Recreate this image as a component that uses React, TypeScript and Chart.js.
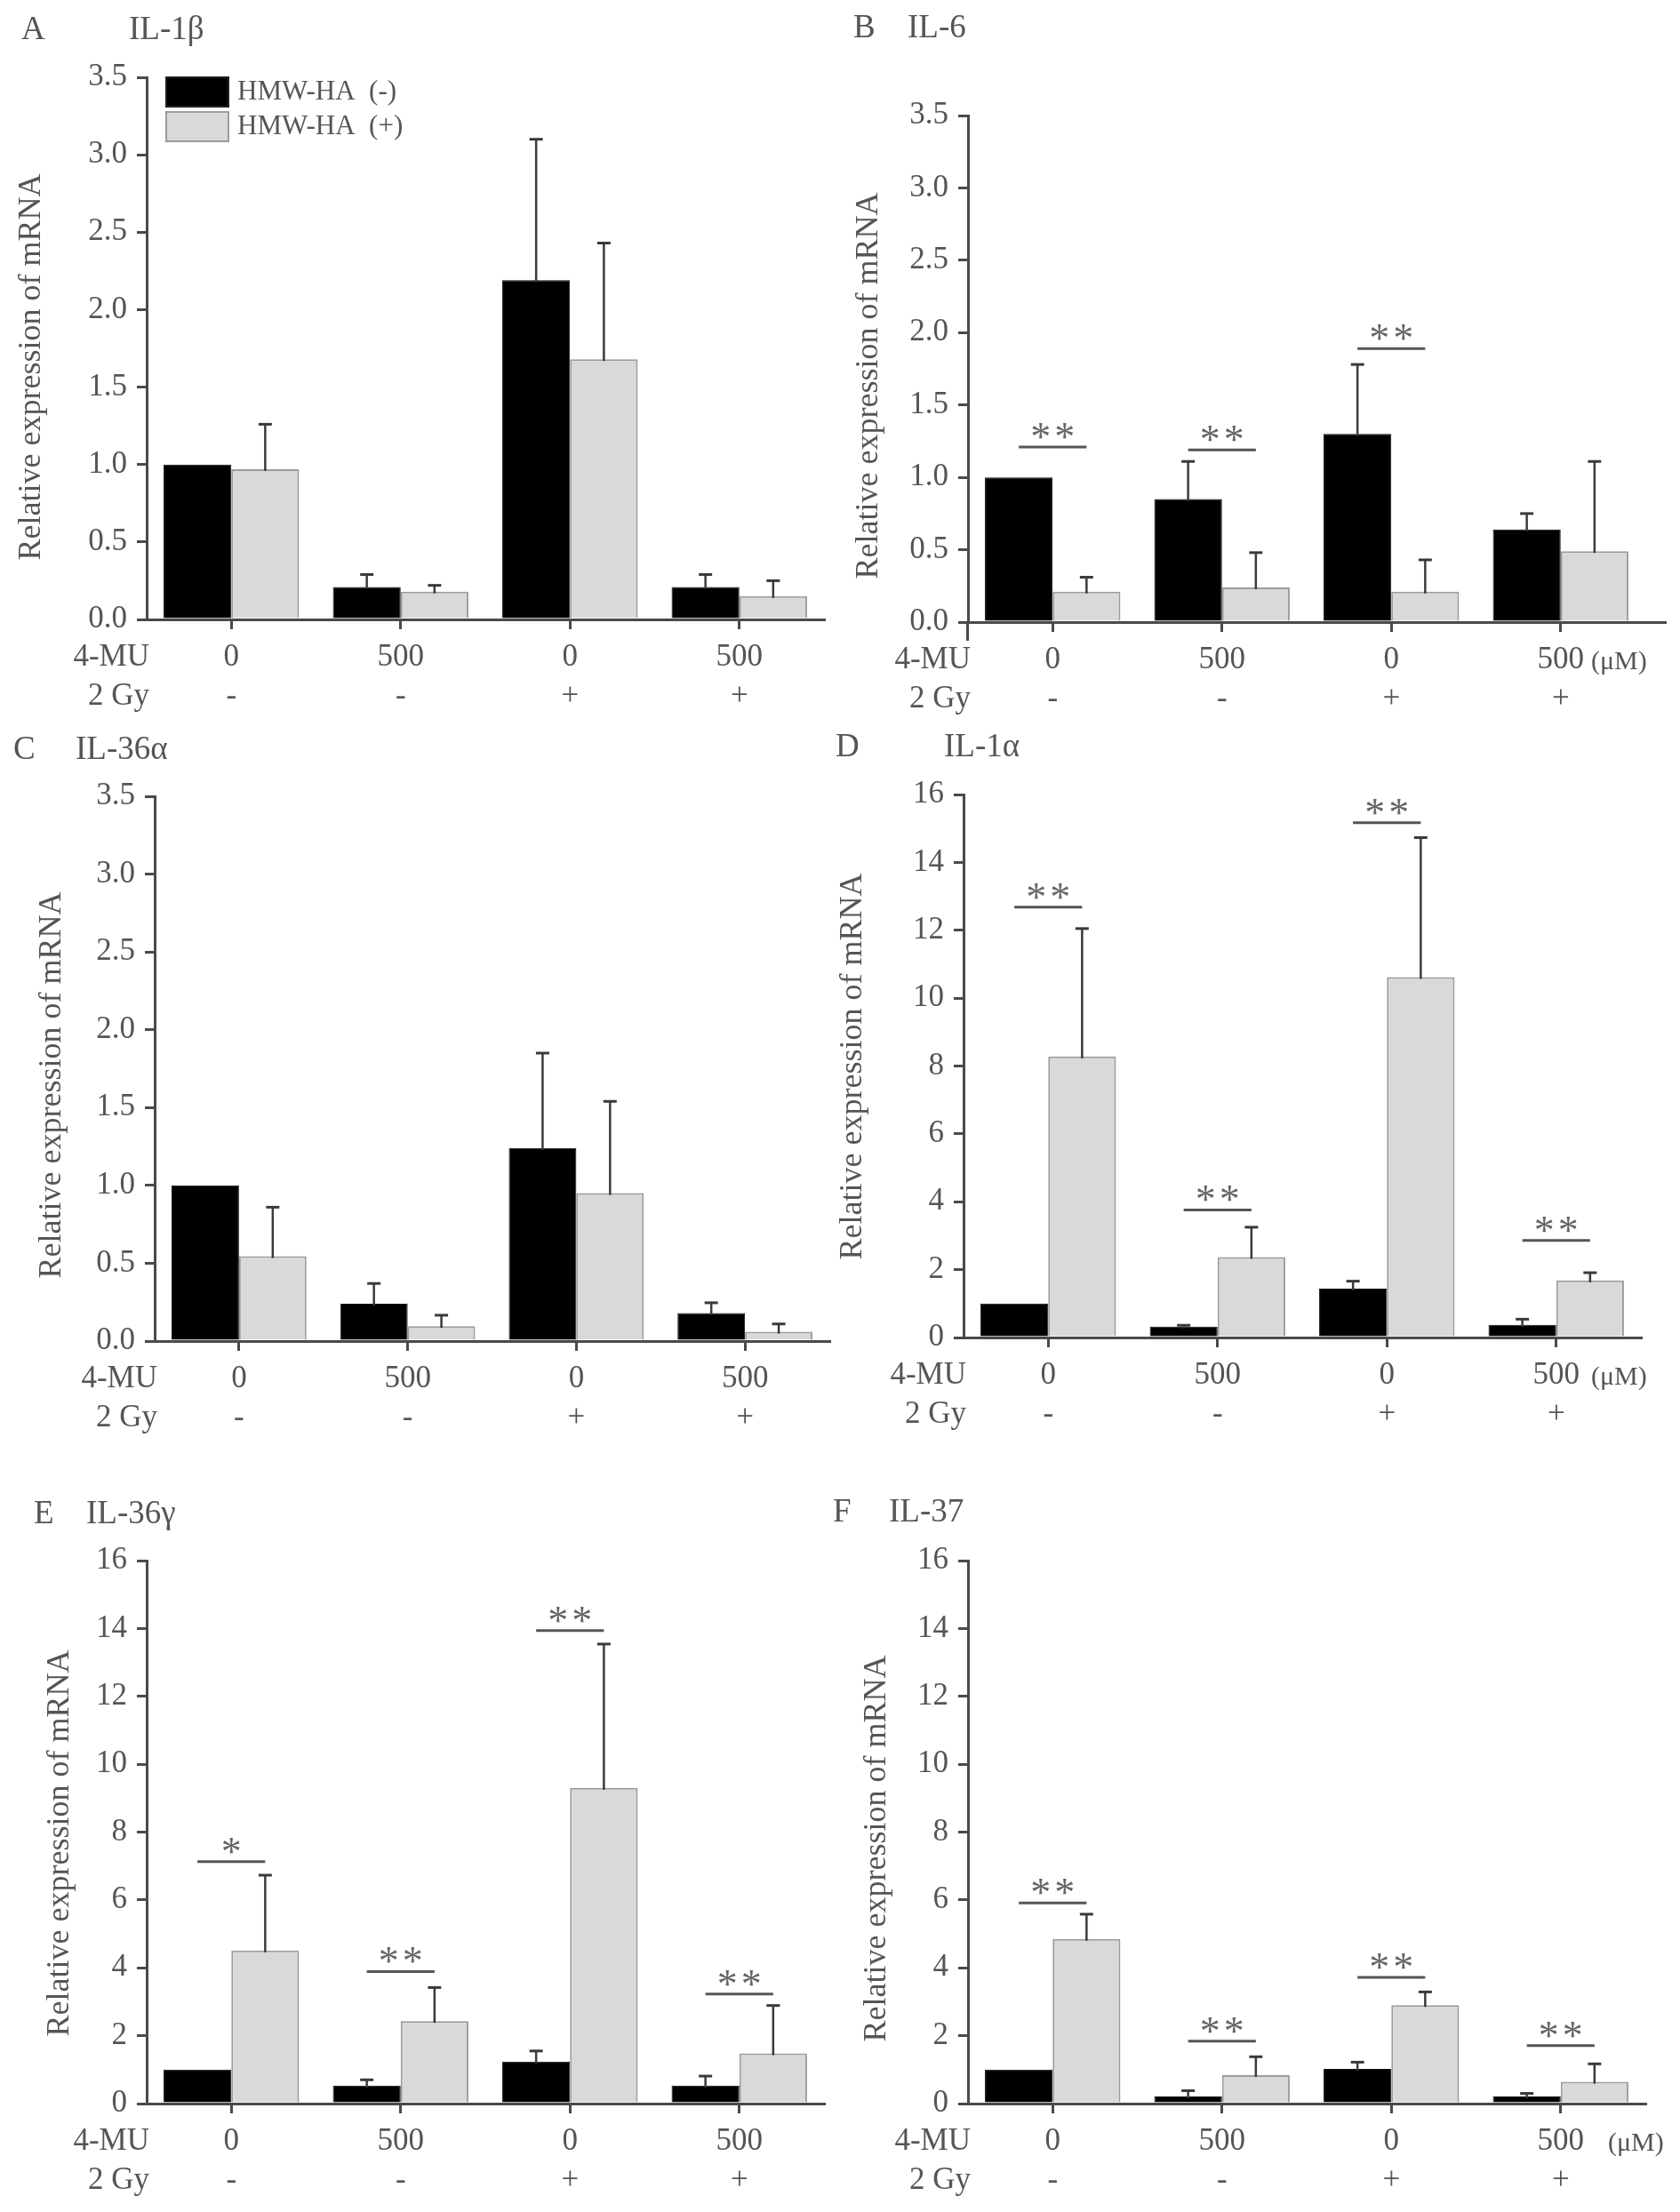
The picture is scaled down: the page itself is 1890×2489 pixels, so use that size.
import React, { useEffect, useRef } from "react";
import { Chart, registerables } from "chart.js";

Chart.register(...registerables);

// ---------- shared labels ----------
const mu4Labels = ["0", "500", "0", "500"];
const gyLabels = ["-", "-", "+", "+"];
const seriesNames = ["HMW-HA  (-)", "HMW-HA  (+)"];

// ---------- A: IL-1β ----------
const il1bMinus = [1.0, 0.21, 2.19, 0.21];
const il1bMinusErr = [0, 0.08, 0.91, 0.08];
const il1bPlus = [0.97, 0.18, 1.68, 0.15];
const il1bPlusErr = [0.29, 0.04, 0.75, 0.1];
const il1bBrackets: (number | null)[] = [null, null, null, null];
const il1bStars = ["", "", "", ""];

// ---------- B: IL-6 ----------
const il6Minus = [1.0, 0.85, 1.3, 0.64];
const il6MinusErr = [0, 0.26, 0.48, 0.11];
const il6Plus = [0.21, 0.24, 0.21, 0.49];
const il6PlusErr = [0.1, 0.24, 0.22, 0.62];
const il6Brackets: (number | null)[] = [1.21, 1.19, 1.89, null];
const il6Stars = ["**", "**", "**", ""];

// ---------- C: IL-36α ----------
const il36aMinus = [1.0, 0.24, 1.24, 0.18];
const il36aMinusErr = [0, 0.13, 0.61, 0.066];
const il36aPlus = [0.545, 0.096, 0.95, 0.06];
const il36aPlusErr = [0.315, 0.07, 0.59, 0.05];
const il36aBrackets: (number | null)[] = [null, null, null, null];
const il36aStars = ["", "", "", ""];

// ---------- D: IL-1α ----------
const il1aMinus = [1.0, 0.32, 1.44, 0.37];
const il1aMinusErr = [0, 0.04, 0.22, 0.17];
const il1aPlus = [8.28, 2.37, 10.62, 1.68];
const il1aPlusErr = [3.77, 0.88, 4.11, 0.23];
const il1aBrackets: (number | null)[] = [12.68, 3.76, 15.17, 2.86];
const il1aStars = ["**", "**", "**", "**"];

// ---------- E: IL-36γ ----------
const il36gMinus = [1.0, 0.53, 1.24, 0.53];
const il36gMinusErr = [0, 0.17, 0.31, 0.28];
const il36gPlus = [4.51, 2.43, 9.3, 1.48];
const il36gPlusErr = [2.22, 0.99, 4.24, 1.41];
const il36gBrackets: (number | null)[] = [7.13, 3.89, 13.94, 3.23];
const il36gStars = ["*", "**", "**", "**"];

// ---------- F: IL-37 ----------
const il37Minus = [1.0, 0.21, 1.02, 0.21];
const il37MinusErr = [0, 0.17, 0.2, 0.09];
const il37Plus = [4.85, 0.84, 2.9, 0.64];
const il37PlusErr = [0.73, 0.54, 0.39, 0.53];
const il37Brackets: (number | null)[] = [5.91, 1.84, 3.72, 1.71];
const il37Stars = ["**", "**", "**", "**"];

// ---------- styling ----------
const FONT = "'Liberation Serif', 'Times New Roman', serif";
const TEXT = "#555555";
const AXIS = "#4a4a4a";
const BLACK = "#000000";
const GREY = "#d9d9d9";
const GREY_EDGE = "#9c9c9c";
const ERR = "#3a3a3a";

type PanelCfg = {
  letter: string;
  name: string;
  box: { x: number; y: number; w: number; h: number };
  axisX: number;
  plotTop: number;
  zeroY: number;
  plotRight: number;
  yMax: number;
  yStep: number;
  decimals: number;
  minus: number[];
  minusErr: number[];
  plus: number[];
  plusErr: number[];
  brackets: (number | null)[];
  stars: string[];
  yTitle: { x: number; y: number };
  letterPos: { x: number; y: number };
  nameX: number;
  unitX: number | null;
  legend: boolean;
  extend: { x: number; y: number } | null;
};

const panels: PanelCfg[] = [
  {
    letter: "A", name: "IL-1β",
    box: { x: 0, y: 0, w: 940, h: 820 },
    axisX: 165, plotTop: 87, zeroY: 697, plotRight: 927,
    yMax: 3.5, yStep: 0.5, decimals: 1,
    minus: il1bMinus, minusErr: il1bMinusErr, plus: il1bPlus, plusErr: il1bPlusErr,
    brackets: il1bBrackets, stars: il1bStars,
    yTitle: { x: 36, y: 413 }, letterPos: { x: 24, y: 34 }, nameX: 145,
    unitX: null, legend: true, extend: null,
  },
  {
    letter: "B", name: "IL-6",
    box: { x: 930, y: 0, w: 960, h: 820 },
    axisX: 1089, plotTop: 130, zeroY: 700, plotRight: 1851,
    yMax: 3.5, yStep: 0.5, decimals: 1,
    minus: il6Minus, minusErr: il6MinusErr, plus: il6Plus, plusErr: il6PlusErr,
    brackets: il6Brackets, stars: il6Stars,
    yTitle: { x: 978, y: 434 }, letterPos: { x: 960, y: 32 }, nameX: 1021,
    unitX: 1790, legend: false, extend: { x: 1875, y: 721 },
  },
  {
    letter: "C", name: "IL-36α",
    box: { x: 0, y: 810, w: 940, h: 830 },
    axisX: 174, plotTop: 896, zeroY: 1509, plotRight: 933,
    yMax: 3.5, yStep: 0.5, decimals: 1,
    minus: il36aMinus, minusErr: il36aMinusErr, plus: il36aPlus, plusErr: il36aPlusErr,
    brackets: il36aBrackets, stars: il36aStars,
    yTitle: { x: 59, y: 1221 }, letterPos: { x: 15, y: 844 }, nameX: 85,
    unitX: null, legend: false, extend: null,
  },
  {
    letter: "D", name: "IL-1α",
    box: { x: 930, y: 810, w: 960, h: 830 },
    axisX: 1084, plotTop: 894, zeroY: 1505, plotRight: 1846,
    yMax: 16, yStep: 2, decimals: 0,
    minus: il1aMinus, minusErr: il1aMinusErr, plus: il1aPlus, plusErr: il1aPlusErr,
    brackets: il1aBrackets, stars: il1aStars,
    yTitle: { x: 960, y: 1200 }, letterPos: { x: 940, y: 841 }, nameX: 1062,
    unitX: 1790, legend: false, extend: null,
  },
  {
    letter: "E", name: "IL-36γ",
    box: { x: 0, y: 1640, w: 940, h: 849 },
    axisX: 165, plotTop: 1756, zeroY: 2367, plotRight: 927,
    yMax: 16, yStep: 2, decimals: 0,
    minus: il36gMinus, minusErr: il36gMinusErr, plus: il36gPlus, plusErr: il36gPlusErr,
    brackets: il36gBrackets, stars: il36gStars,
    yTitle: { x: 68, y: 2074 }, letterPos: { x: 38, y: 1704 }, nameX: 97,
    unitX: null, legend: false, extend: null,
  },
  {
    letter: "F", name: "IL-37",
    box: { x: 930, y: 1640, w: 960, h: 849 },
    axisX: 1089, plotTop: 1756, zeroY: 2367, plotRight: 1851,
    yMax: 16, yStep: 2, decimals: 0,
    minus: il37Minus, minusErr: il37MinusErr, plus: il37Plus, plusErr: il37PlusErr,
    brackets: il37Brackets, stars: il37Stars,
    yTitle: { x: 987, y: 2080 }, letterPos: { x: 937, y: 1702 }, nameX: 1000,
    unitX: 1809, legend: false, extend: null,
  },
];

function makeDecor(cfg: PanelCfg) {
  const ox = cfg.box.x;
  const oy = cfg.box.y;
  return {
    id: "panelDecor" + cfg.letter,
    afterDatasetsDraw(chart: any) {
      const ctx = chart.ctx as CanvasRenderingContext2D;
      const ys = chart.scales.y;
      ctx.save();
      // error bars (upper only)
      [cfg.minusErr, cfg.plusErr].forEach((errs, d) => {
        const meta = chart.getDatasetMeta(d);
        const vals = chart.data.datasets[d].data as number[];
        meta.data.forEach((bar: any, i: number) => {
          const e = errs[i];
          if (!e) return;
          const v = vals[i];
          const y0 = ys.getPixelForValue(v);
          const y1 = ys.getPixelForValue(v + e);
          ctx.strokeStyle = ERR;
          ctx.lineWidth = 2.5;
          ctx.beginPath();
          ctx.moveTo(bar.x, y0 + 2);
          ctx.lineTo(bar.x, y1);
          ctx.stroke();
          ctx.lineWidth = 3;
          ctx.beginPath();
          ctx.moveTo(bar.x - 7.5, y1);
          ctx.lineTo(bar.x + 7.5, y1);
          ctx.stroke();
        });
      });
      // significance brackets
      const m0 = chart.getDatasetMeta(0);
      const m1 = chart.getDatasetMeta(1);
      cfg.brackets.forEach((b, i) => {
        if (b === null) return;
        const x1 = m0.data[i].x;
        const x2 = m1.data[i].x;
        const yy = ys.getPixelForValue(b);
        ctx.strokeStyle = "#555";
        ctx.lineWidth = 3;
        ctx.beginPath();
        ctx.moveTo(x1, yy);
        ctx.lineTo(x2, yy);
        ctx.stroke();
        ctx.fillStyle = "#666";
        ctx.font = `46px ${FONT}`;
        (ctx as any).letterSpacing = "4px";
        ctx.textAlign = "center";
        ctx.textBaseline = "alphabetic";
        ctx.fillText(cfg.stars[i], (x1 + x2) / 2 + 2, yy + 4);
        (ctx as any).letterSpacing = "0px";
      });
      ctx.restore();
    },
    afterDraw(chart: any) {
      const ctx = chart.ctx as CanvasRenderingContext2D;
      const ca = chart.chartArea;
      ctx.save();
      ctx.fillStyle = TEXT;
      // panel letter and name
      ctx.font = `37px ${FONT}`;
      ctx.textAlign = "left";
      ctx.textBaseline = "middle";
      ctx.fillText(cfg.letter, cfg.letterPos.x - ox, cfg.letterPos.y - oy);
      ctx.fillText(cfg.name, cfg.nameX - ox, cfg.letterPos.y - oy);
      // y-axis title
      ctx.save();
      ctx.translate(cfg.yTitle.x - ox, cfg.yTitle.y - oy);
      ctx.rotate(-Math.PI / 2);
      ctx.font = `36px ${FONT}`;
      ctx.textAlign = "center";
      ctx.textBaseline = "middle";
      ctx.fillText("Relative expression of mRNA", 0, 0);
      ctx.restore();
      // row labels
      ctx.font = `35px ${FONT}`;
      ctx.textAlign = "right";
      ctx.textBaseline = "middle";
      ctx.fillText("4-MU", ca.left + 3, ca.bottom + 43);
      ctx.fillText("2 Gy", ca.left + 3, ca.bottom + 87);
      // unit
      if (cfg.unitX !== null) {
        ctx.font = `30px ${FONT}`;
        ctx.textAlign = "left";
        ctx.fillText("(μM)", cfg.unitX - ox, ca.bottom + 45);
      }
      // legend
      if (cfg.legend) {
        const ds = chart.data.datasets;
        const rows = [
          { y: 87, h: 33 },
          { y: 126, h: 33 },
        ];
        rows.forEach((r, k) => {
          ctx.fillStyle = ds[k].backgroundColor;
          ctx.fillRect(187 - ox, r.y - oy, 70, r.h);
          ctx.strokeStyle = k === 0 ? "#222" : GREY_EDGE;
          ctx.lineWidth = 2;
          ctx.strokeRect(187 - ox, r.y - oy, 70, r.h);
          ctx.fillStyle = TEXT;
          ctx.font = `31px ${FONT}`;
          ctx.textAlign = "left";
          ctx.textBaseline = "middle";
          ctx.fillText(ds[k].label, 267 - ox, r.y + r.h / 2 - oy);
        });
      }
      // axis extensions
      if (cfg.extend) {
        ctx.strokeStyle = AXIS;
        ctx.lineWidth = 3;
        ctx.beginPath();
        ctx.moveTo(ca.right - 1, ca.bottom + 0.5);
        ctx.lineTo(cfg.extend.x - ox, ca.bottom + 0.5);
        ctx.moveTo(ca.left - 0.5, ca.bottom);
        ctx.lineTo(ca.left - 0.5, cfg.extend.y - oy);
        ctx.stroke();
      }
      ctx.restore();
    },
  };
}

function Panel({ cfg }: { cfg: PanelCfg }) {
  const ref = useRef<HTMLCanvasElement | null>(null);
  useEffect(() => {
    const canvas = ref.current;
    if (!canvas) return;
    const { box } = cfg;
    const labels = mu4Labels.map((m, i) => [m, gyLabels[i]]);
    const chart = new Chart(canvas, {
      type: "bar",
      data: {
        labels,
        datasets: [
          {
            label: seriesNames[0],
            data: cfg.minus,
            backgroundColor: BLACK,
            borderColor: "#111",
            borderWidth: 1,
            categoryPercentage: 0.8,
            barPercentage: 1.0,
          },
          {
            label: seriesNames[1],
            data: cfg.plus,
            backgroundColor: GREY,
            borderColor: GREY_EDGE,
            borderWidth: 2,
            categoryPercentage: 0.8,
            barPercentage: 1.0,
          },
        ],
      },
      options: {
        animation: false,
        responsive: false,
        devicePixelRatio: 1,
        layout: {
          padding: {
            left: 0,
            top: cfg.plotTop - box.y,
            right: box.x + box.w - cfg.plotRight,
            bottom: 0,
          },
        },
        plugins: {
          legend: { display: false },
          tooltip: { enabled: false },
          title: { display: false },
        },
        scales: {
          x: {
            type: "category",
            offset: true,
            grid: {
              display: true,
              drawOnChartArea: false,
              drawTicks: true,
              tickLength: 11,
              offset: false,
              color: AXIS,
              lineWidth: 3,
            },
            border: { display: true, color: AXIS, width: 3 },
            ticks: {
              color: TEXT,
              font: { family: FONT, size: 35, lineHeight: 1.26 },
              padding: 10,
              maxRotation: 0,
              minRotation: 0,
              autoSkip: false,
            },
            afterFit: (s: any) => {
              s.height = box.y + box.h - cfg.zeroY;
            },
          },
          y: {
            type: "linear",
            min: 0,
            max: cfg.yMax,
            grid: {
              display: true,
              drawOnChartArea: false,
              drawTicks: true,
              tickLength: 11,
              color: AXIS,
              lineWidth: 3,
            },
            border: { display: true, color: AXIS, width: 3 },
            ticks: {
              stepSize: cfg.yStep,
              color: TEXT,
              font: { family: FONT, size: 35 },
              padding: 11,
              callback: (v: any) => Number(v).toFixed(cfg.decimals),
            },
            afterFit: (s: any) => {
              s.width = cfg.axisX - box.x;
            },
          },
        },
      } as any,
      plugins: [makeDecor(cfg)],
    });
    return () => chart.destroy();
  }, [cfg]);
  return (
    <canvas
      ref={ref}
      width={cfg.box.w}
      height={cfg.box.h}
      style={{
        position: "absolute",
        left: cfg.box.x,
        top: cfg.box.y,
        width: cfg.box.w,
        height: cfg.box.h,
      }}
    />
  );
}

export default function App() {
  return (
    <div
      style={{
        position: "absolute",
        left: 0,
        top: 0,
        width: 1890,
        height: 2489,
        background: "#ffffff",
        overflow: "hidden",
      }}
    >
      {panels.map((p) => (
        <Panel key={p.letter} cfg={p} />
      ))}
    </div>
  );
}
